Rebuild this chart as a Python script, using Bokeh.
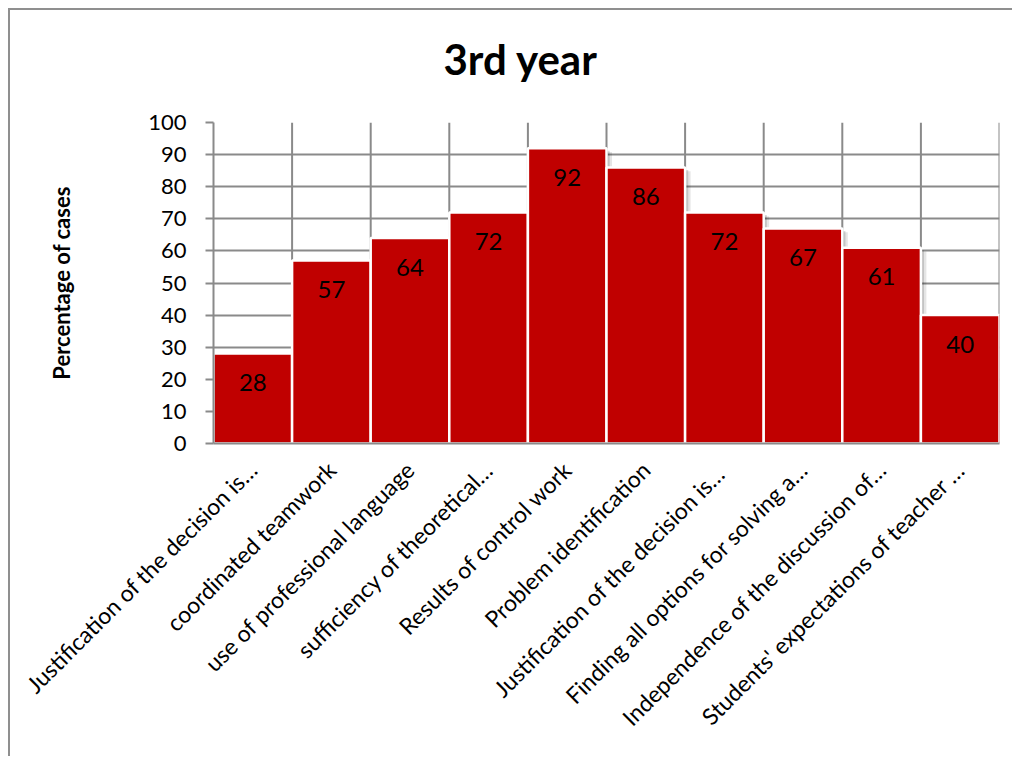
import math
from bokeh.plotting import figure
from bokeh.models import ColumnDataSource, FactorRange, Range1d, SingleIntervalTicker, Title
from bokeh.transform import dodge
from bokeh.core.properties import value
from bokeh.embed import file_html
from bokeh.resources import INLINE

title_text = "3rd year"
categories = [
    "Justification of the decision is\u2026",
    "coordinated teamwork",
    "use of professional language",
    "sufficiency of theoretical\u2026",
    "Results of control work",
    "Problem identification",
    "Justification of the decision is\u2026 ",
    "Finding all options for solving a\u2026",
    "Independence of the discussion of\u2026",
    "Students' expectations of teacher \u2026",
]
values = [28, 57, 64, 72, 92, 86, 72, 67, 61, 40]
labels = [str(v) for v in values]

FONT = "Lato"
GRID = "#8a8a8a"

src = ColumnDataSource(data=dict(cat=categories, val=values, lab=labels))

p = figure(
    width=1004, height=748, title=None,
    x_range=FactorRange(*categories, range_padding=0),
    y_range=Range1d(0, 100),
    output_backend="svg", toolbar_location=None,
    min_border_left=203, min_border_right=15,
    min_border_top=112, min_border_bottom=315,
)
p.styles = {"margin-left": "8px", "margin-top": "8px",
            "border-top": "2px solid #8f8f8f", "border-left": "2px solid #8f8f8f"}
p.outline_line_color = None
p.background_fill_color = "white"
p.border_fill_color = "white"

# spacer between frame and title, then the title itself
p.add_layout(Title(text=" ", text_font_size="1px", standoff=36), "above")
p.add_layout(Title(text=title_text, text_font=FONT, text_font_size="42px",
                   text_font_style="bold", text_color="black",
                   align="left", offset=230, standoff=0), "above")

# grids
p.xgrid.grid_line_color = None
p.ygrid.grid_line_color = GRID
p.ygrid.grid_line_width = 2
p.ygrid.level = "underlay"

# vertical separators at category boundaries
p.segment(x0=dodge("cat", 0.5, range=p.x_range), y0=0,
          x1=dodge("cat", 0.5, range=p.x_range), y1=100,
          source=src, line_color=GRID, line_width=2, level="underlay")

# shadows
p.vbar(x=dodge("cat", 0.07, range=p.x_range), top=dodge("val", -1.2), width=1.0,
       source=src, fill_color="#000000", fill_alpha=0.10, line_color=None)
p.vbar(x=dodge("cat", 0.04, range=p.x_range), top=dodge("val", -0.8), width=1.0,
       source=src, fill_color="#000000", fill_alpha=0.15, line_color=None)

# bars
p.vbar(x="cat", top="val", width=1.0, source=src,
       fill_color="#C00000", line_color="white", line_width=2.5)

# data labels
p.text(x="cat", y="val", text="lab", source=src,
       text_font=value(FONT), text_font_size="24px", text_color="black",
       text_align="center", text_baseline="middle", y_offset=29)

# y axis
ya = p.yaxis[0]
ya.ticker = SingleIntervalTicker(interval=10)
ya.axis_label = "Percentage of cases"
ya.axis_label_text_font = FONT
ya.axis_label_text_font_size = "22px"
ya.axis_label_text_font_style = "bold"
ya.axis_label_text_color = "black"
ya.axis_label_standoff = 70
ya.major_label_text_font = FONT
ya.major_label_text_font_size = "22px"
ya.major_label_text_color = "black"
ya.major_label_standoff = 19
ya.axis_line_color = GRID
ya.axis_line_width = 2
ya.major_tick_line_color = GRID
ya.major_tick_line_width = 2
ya.major_tick_out = 8
ya.major_tick_in = 0
ya.minor_tick_line_color = None

# x axis
xa = p.xaxis[0]
xa.major_label_orientation = math.pi / 4
xa.major_label_text_font = FONT
xa.major_label_text_font_size = "23px"
xa.major_label_text_color = "black"
xa.major_label_standoff = 16
xa.axis_line_color = GRID
xa.axis_line_width = 2
xa.major_tick_line_color = None
xa.minor_tick_line_color = None
xa.group_text_color = None

open("out.html", "w").write(file_html(p, INLINE))
